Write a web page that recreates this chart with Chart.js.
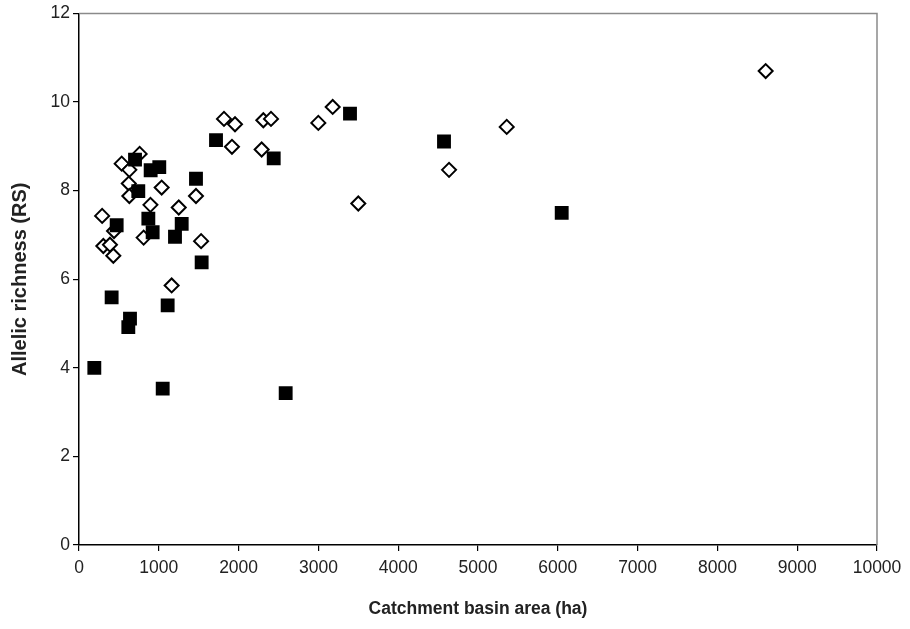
<!DOCTYPE html>
<html>
<head>
<meta charset="utf-8">
<script src="https://cdn.jsdelivr.net/npm/chart.js@4/dist/chart.umd.min.js"></script>
<style>
  html, body { margin: 0; padding: 0; background: #fff; }
  #wrap { width: 910px; height: 629px; }
</style>
</head>
<body>
<div id="wrap"><canvas id="miGrafica" width="910" height="629"></canvas></div>
<script>
// filled squares
const cuadX = [192, 409, 639, 618, 472, 702, 898, 1006, 743, 1466, 869, 923, 1203, 1287, 1537, 1111, 1049, 1717, 2440, 3396, 4574, 6049, 2590];
const cuadY = [4.0, 5.59, 5.11, 4.92, 7.22, 8.70, 8.46, 8.53, 7.99, 8.27, 7.37, 7.06, 6.96, 7.25, 6.38, 5.41, 3.53, 9.14, 8.73, 9.74, 9.11, 7.50, 3.43];

// open diamonds
const rombX = [760, 535, 631, 624, 631, 1036, 895, 1250, 1466, 290, 439, 810, 305, 388, 430, 1530, 1161, 1917, 2289, 1817, 1955, 2310, 2406, 2999, 3179, 3500, 5360, 4637, 8605];
const rombY = [8.83, 8.61, 8.47, 8.16, 7.88, 8.07, 7.68, 7.62, 7.88, 7.43, 7.09, 6.94, 6.75, 6.78, 6.53, 6.86, 5.86, 8.99, 8.93, 9.62, 9.50, 9.59, 9.62, 9.53, 9.89, 7.71, 9.44, 8.47, 10.70];

const xTicks = [0, 1000, 2000, 3000, 4000, 5000, 6000, 7000, 8000, 9000, 10000];
const yTicks = [0, 2, 4, 6, 8, 10, 12];

const puntos = (xs, ys) => xs.map((x, i) => ({ x: x, y: ys[i] }));

const marco = {
  id: 'marco',
  afterDatasetsDraw(chart) {
    const a = chart.chartArea, ctx = chart.ctx;
    ctx.save();
    ctx.strokeStyle = '#8a8a8a';
    ctx.lineWidth = 1.5;
    ctx.beginPath();
    ctx.moveTo(a.left, a.top);
    ctx.lineTo(a.right, a.top);
    ctx.lineTo(a.right, a.bottom);
    ctx.stroke();
    ctx.restore();
  }
};

const fuente = '"Liberation Sans", Arial, Helvetica, sans-serif';

const graf = document.getElementById('miGrafica').getContext('2d');
const myChart = new Chart(graf, {
  type: 'scatter',
  data: {
    datasets: [{
      label: 'cuadrados',
      data: puntos(cuadX, cuadY),
      pointStyle: 'rect',
      pointRadius: 9.8,
      pointHoverRadius: 9.8,
      backgroundColor: '#000',
      borderColor: '#000',
      borderWidth: 0
    }, {
      label: 'rombos',
      data: puntos(rombX, rombY),
      pointStyle: 'rectRot',
      pointRadius: 7,
      pointHoverRadius: 7,
      backgroundColor: '#fff',
      borderColor: '#000',
      borderWidth: 2
    }]
  },
  options: {
    responsive: false,
    animation: false,
    layout: { padding: { top: 6, right: 33, left: 0, bottom: 0 } },
    plugins: { legend: { display: false }, tooltip: { enabled: false } },
    scales: {
      x: {
        type: 'linear',
        min: 0, max: 10000,
        afterBuildTicks: s => { s.ticks = xTicks.map(v => ({ value: v })); },
        afterFit: s => { s.height = 84; },
        grid: { display: true, drawOnChartArea: false, drawTicks: true, tickLength: 6, color: '#000', lineWidth: 1.2 },
        border: { display: true, color: '#000', width: 1.5 },
        ticks: { color: '#222', padding: 7, maxRotation: 0, callback: v => String(v), font: { family: fuente, size: 17.5 } },
        title: { display: true, text: 'Catchment basin area (ha)', color: '#222', padding: { top: 0, bottom: 9 }, font: { family: fuente, size: 17.5, weight: 'bold' } }
      },
      y: {
        type: 'linear',
        min: 0, max: 12,
        afterBuildTicks: s => { s.ticks = yTicks.map(v => ({ value: v })); },
        afterFit: s => { s.width = 79; },
        grid: { display: true, drawOnChartArea: false, drawTicks: true, tickLength: 6, color: '#000', lineWidth: 1.2 },
        border: { display: true, color: '#000', width: 1.5 },
        ticks: { color: '#222', padding: 3, callback: v => String(v), font: { family: fuente, size: 17.5 } },
        title: { display: true, text: 'Allelic richness (RS)', color: '#222', padding: { top: 8, bottom: 0 }, font: { family: fuente, size: 20, weight: 'bold' } }
      }
    }
  },
  plugins: [marco]
});
</script>
</body>
</html>
